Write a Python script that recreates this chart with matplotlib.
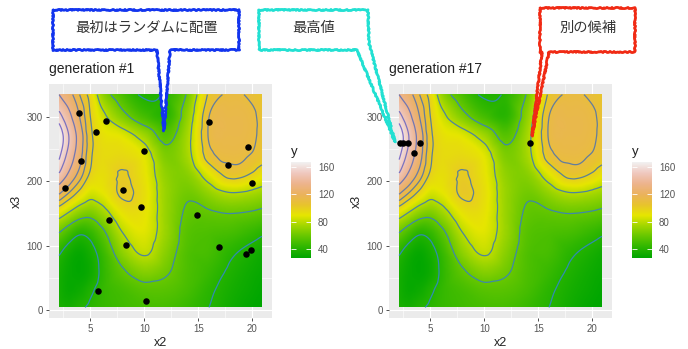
import numpy as np
import matplotlib
matplotlib.use('Agg')
import matplotlib.pyplot as plt
import matplotlib.tri as mtri
from matplotlib.colors import LinearSegmentedColormap
from matplotlib.patches import Polygon

plt.rcParams['font.family'] = ['Liberation Sans', 'DejaVu Sans']
CJK = ['Noto Sans CJK JP', 'DejaVu Sans']

# surface y(x2, x3) on a coarse grid (rows = x3, bottom to top)
x2_nodes = [2.1, 3, 4, 5, 6, 8, 10, 12, 14, 16, 18, 20, 20.9]
x3_nodes = [4, 30, 60, 90, 120, 150, 180, 210, 240, 270, 300, 335]
y_grid = [
    [36, 34, 38, 42, 45, 48, 50, 50, 46, 40, 33, 28, 27],
    [34, 30, 32, 38, 44, 50, 55, 55, 50, 42, 35, 30, 28],
    [35, 30, 28, 32, 42, 58, 68, 62, 52, 46, 38, 32, 30],
    [42, 34, 30, 35, 45, 70, 82, 68, 53, 50, 42, 36, 33],
    [60, 50, 42, 45, 55, 80, 88, 72, 55, 52, 50, 45, 42],
    [88, 78, 68, 65, 72, 91, 91, 72, 58, 58, 60, 58, 56],
    [120, 108, 95, 85, 88, 102, 93, 72, 62, 70, 78, 75, 72],
    [148, 132, 115, 98, 93, 101, 91, 70, 68, 88, 104, 98, 92],
    [162, 145, 125, 102, 95, 95, 88, 65, 75, 106, 112, 109, 105],
    [167, 150, 128, 103, 93, 88, 74, 55, 75, 111, 114, 112, 107],
    [155, 140, 120, 100, 86, 66, 50, 42, 70, 110, 114, 112, 107],
    [135, 125, 110, 95, 72, 50, 38, 42, 62, 102, 111, 108, 104],
]
contour_levels = [40, 60, 80, 100, 110, 120, 135, 150, 160]

# sampled points
gen1_x2 = [3.95, 6.48, 5.52, 4.17, 2.62, 9.94, 8.05, 9.66, 6.70, 8.30,
           5.71, 10.15, 14.91, 15.99, 19.6, 17.72, 20.0, 16.94, 19.47, 19.85]
gen1_x3 = [307, 294, 277, 232, 189, 247, 186, 160, 140, 101,
           29, 13.5, 148, 293, 253, 226, 198, 98, 87, 94]
gen17_x2 = [2.2, 2.5, 2.9, 4.0, 3.5, 14.26]
gen17_x3 = [260, 260, 260, 260, 244, 260]

titles = ['generation #1', 'generation #17']
legend_ticks = [40, 80, 120, 160]

# R terrain.colors(10)
terrain = ['#00A600', '#2DB600', '#63C600', '#A0D600', '#E6E600',
           '#E8C32E', '#EBB25E', '#EDB48E', '#F0C9C0', '#F2F2F2']
fill_cmap = LinearSegmentedColormap.from_list('terrain10', terrain)
line_cmap = LinearSegmentedColormap.from_list('lines', ['#2F8CB2', '#5C8096', '#8070C8'])

# smooth surface from the grid
gx, gy = np.meshgrid(x2_nodes, x3_nodes)
tri = mtri.Triangulation(gx.ravel(), gy.ravel())
interp = mtri.CubicTriInterpolator(tri, np.array(y_grid, float).ravel(), kind='geom')
xs = np.linspace(x2_nodes[0] + 1e-6, x2_nodes[-1] - 1e-6, 300)
ys = np.linspace(x3_nodes[0] + 1e-6, x3_nodes[-1] - 1e-6, 300)
XX, YY = np.meshgrid(xs, ys)
ZZ = np.ma.filled(interp(XX, YY), np.nan)
zmin, zmax = np.nanmin(ZZ), np.nanmax(ZZ)

W, H = 688, 349
fig = plt.figure(figsize=(W / 100, H / 100), dpi=100)


def px_axes(x0, y0, x1, y1):
    return fig.add_axes([x0 / W, 1 - y1 / H, (x1 - x0) / W, (y1 - y0) / H])


panels = [(49, 272, 291, gen1_x2, gen1_x3), (389, 612, 632, gen17_x2, gen17_x3)]
for (x0, x1, lx, px, py), title in zip(panels, titles):
    ax = px_axes(x0, 84, x1, 318)
    ax.set_facecolor('#EBEBEB')
    for s in ax.spines.values():
        s.set_visible(False)
    ax.set_xlim(1.16, 21.84)
    ax.set_ylim(-12.5, 351.5)
    ax.set_xticks([5, 10, 15, 20])
    ax.set_yticks([0, 100, 200, 300])
    ax.set_xticks([2.5, 7.5, 12.5, 17.5], minor=True)
    ax.set_yticks([50, 150, 250], minor=True)
    ax.grid(True, which='major', color='white', lw=0.8)
    ax.grid(True, which='minor', color='white', lw=0.4)
    ax.set_axisbelow(True)
    ax.tick_params(which='major', length=2.5, width=0.6, color='#333333',
                   labelsize=7, labelcolor='#555555', pad=2)
    ax.tick_params(which='minor', length=0)
    ax.set_xlabel('x2', fontsize=9, color='#222222', labelpad=2)
    ax.set_ylabel('x3', fontsize=9, color='#222222', labelpad=3)

    ax.imshow(ZZ, extent=[xs[0], xs[-1], ys[0], ys[-1]], origin='lower', aspect='auto',
              cmap=fill_cmap, vmin=zmin, vmax=zmax, interpolation='bilinear', zorder=1)
    ax.contour(XX, YY, ZZ, levels=contour_levels, cmap=line_cmap, vmin=40, vmax=160,
               linewidths=0.9, zorder=2)
    ax.scatter(px, py, s=22, c='black', zorder=3, linewidths=0)

    fig.text(x0 / W, 1 - 73 / H, title, fontsize=10, color='#222222', va='baseline')

    # colourbar legend
    cax = px_axes(lx, 162, lx + 20, 258)
    cax.imshow(np.linspace(zmin, zmax, 256)[:, None], extent=[0, 1, zmin, zmax],
               origin='lower', aspect='auto', cmap=fill_cmap)
    cax.set_xlim(0, 1)
    cax.set_ylim(zmin, zmax)
    for s in cax.spines.values():
        s.set_visible(False)
    cax.set_xticks([])
    cax.set_yticks(legend_ticks)
    cax.yaxis.tick_right()
    cax.tick_params(axis='y', direction='in', left=True, right=True, length=3.5,
                    width=0.6, color='white', labelsize=7, labelcolor='#555555', pad=5)
    fig.text(lx / W, 1 - 155 / H, 'y', fontsize=9.5, color='#222222', va='baseline')

# callouts
ov = fig.add_axes([0, 0, 1, 1])
ov.set_xlim(0, W)
ov.set_ylim(H, 0)
ov.axis('off')

callouts = [
    ('最初はランダムに配置', '#1234EE', 146, 28,
     [(53, 10), (239, 10), (239, 50), (170, 50), (164, 131), (157, 50), (53, 50)]),
    ('最高値', '#22E0D2', 314, 28,
     [(259, 10), (368, 10), (369, 43), (395, 142), (357, 50), (259, 50)]),
    ('別の候補', '#F02A14', 588, 28,
     [(540, 8), (635, 8), (635, 52), (549, 52), (532, 136), (542, 52), (540, 52)]),
]
for text, col, tx, ty, pts in callouts:
    poly = Polygon(pts, closed=True, facecolor='white', edgecolor=col, lw=2.0,
                   joinstyle='round')
    poly.set_sketch_params(scale=0.6, length=3, randomness=4)
    ov.add_patch(poly)
    ov.text(tx, ty, text, family=CJK, fontsize=10.3, color='#333333',
            ha='center', va='center')

fig.savefig('out.png', dpi=100)
